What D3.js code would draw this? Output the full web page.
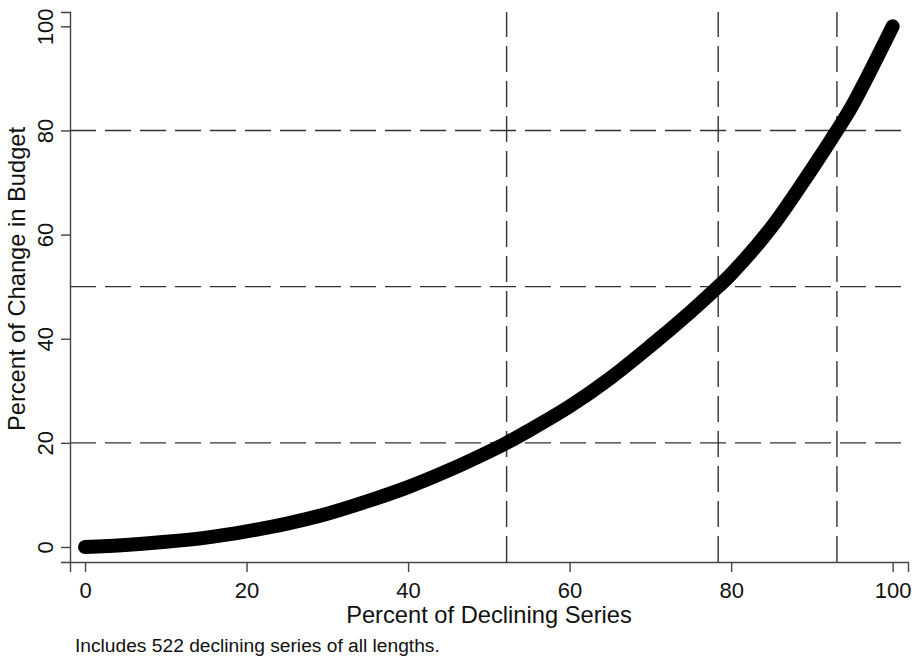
<!DOCTYPE html>
<html>
<head>
<meta charset="utf-8">
<script src="https://cdn.jsdelivr.net/npm/d3@7"></script>
<style>
  body { margin: 0; background: #fff; }
  svg { display: block; font-family: "Liberation Sans", Arial, sans-serif; }
</style>
</head>
<body>
<svg width="922" height="659"></svg>
<script>
// values
var declinePct = [0, 5, 10, 15, 20, 25, 30, 35, 40, 45, 50, 52.2, 55, 60, 65, 70, 75, 78.4, 80, 85, 90, 93.1, 95, 100];
var budgetPct  = [0, 0.4, 1.0, 1.8, 3.0, 4.5, 6.4, 8.8, 11.5, 14.7, 18.3, 20, 22.4, 27.0, 32.4, 38.6, 45.2, 50, 52.4, 61.4, 72.6, 80, 84.8, 100];
var refX = [52.2, 78.4, 93.1];
var refY = [20, 50, 80];
var xTicks = [0, 20, 40, 60, 80, 100];
var yTicks = [0, 20, 40, 60, 80, 100];

var svg = d3.select("svg");

// plot region
var plotLeft = 70, plotRight = 908, plotTop = 12, plotBottom = 562;

// scales, axis lines run a bit past 0 and 100
var x = d3.scaleLinear()
	.domain([-1.86, 101.9])
	.range([plotLeft, plotRight]);

var y = d3.scaleLinear()
	.domain([-2.885, 102.75])
	.range([plotBottom, plotTop]);

var axisColor = "#444";
var textColor = "#111";

// dashed reference lines
svg.append("g")
	.selectAll("line")
	.data(refY)
	.enter()
	.append("line")
	.attr("x1", plotLeft)
	.attr("x2", plotRight)
	.attr("y1", function(d){ return y(d); })
	.attr("y2", function(d){ return y(d); })
	.attr("stroke", "#333")
	.attr("stroke-width", 1.4)
	.attr("stroke-dasharray", "26,9");

svg.append("g")
	.selectAll("line")
	.data(refX)
	.enter()
	.append("line")
	.attr("x1", function(d){ return x(d); })
	.attr("x2", function(d){ return x(d); })
	.attr("y1", plotBottom)
	.attr("y2", plotTop)
	.attr("stroke", "#333")
	.attr("stroke-width", 1.4)
	.attr("stroke-dasharray", "26,9");

// x axis
var xAxis = d3.axisBottom(x)
	.tickValues(xTicks)
	.tickSizeOuter(0)
	.tickSize(10)
	.tickPadding(10);

var gx = svg.append("g")
	.attr("transform", "translate(0," + plotBottom + ")")
	.call(xAxis);

// y axis
var yAxis = d3.axisLeft(y)
	.tickValues(yTicks)
	.tickSizeOuter(0)
	.tickSize(9);

var gy = svg.append("g")
	.attr("transform", "translate(" + plotLeft + ",0)")
	.call(yAxis);

[gx, gy].forEach(function(g){
	g.select(".domain").attr("stroke", axisColor).attr("stroke-width", 1.4);
	g.selectAll(".tick line").attr("stroke", axisColor).attr("stroke-width", 1.4);
	g.selectAll(".tick text")
		.attr("fill", textColor)
		.style("font-size", "22px")
		.style("font-family", "'Liberation Sans', Arial, sans-serif");
});

// rotate y tick labels
gy.selectAll(".tick text")
	.attr("x", null)
	.attr("dy", null)
	.attr("transform", "translate(-17,0) rotate(-90)")
	.attr("text-anchor", "middle");

// curve
var pts = declinePct.map(function(d, i){ return [d, budgetPct[i]]; });

var line = d3.line()
	.x(function(d){ return x(d[0]); })
	.y(function(d){ return y(d[1]); })
	.curve(d3.curveCatmullRom.alpha(0.5));

svg.append("path")
	.datum(pts)
	.attr("d", line)
	.attr("fill", "none")
	.attr("stroke", "#000")
	.attr("stroke-width", 14)
	.attr("stroke-linecap", "round")
	.attr("stroke-linejoin", "round");

// axis titles
svg.append("text")
	.attr("x", (plotLeft + plotRight) / 2)
	.attr("y", 623)
	.attr("text-anchor", "middle")
	.attr("fill", textColor)
	.style("font-size", "23.7px")
	.text("Percent of Declining Series");

svg.append("text")
	.attr("transform", "translate(25,279) rotate(-90)")
	.attr("text-anchor", "middle")
	.attr("fill", textColor)
	.style("font-size", "23.7px")
	.text("Percent of Change in Budget");

// note
svg.append("text")
	.attr("x", 75)
	.attr("y", 652)
	.attr("fill", textColor)
	.style("font-size", "19.2px")
	.text("Includes 522 declining series of all lengths.");
</script>
</body>
</html>
